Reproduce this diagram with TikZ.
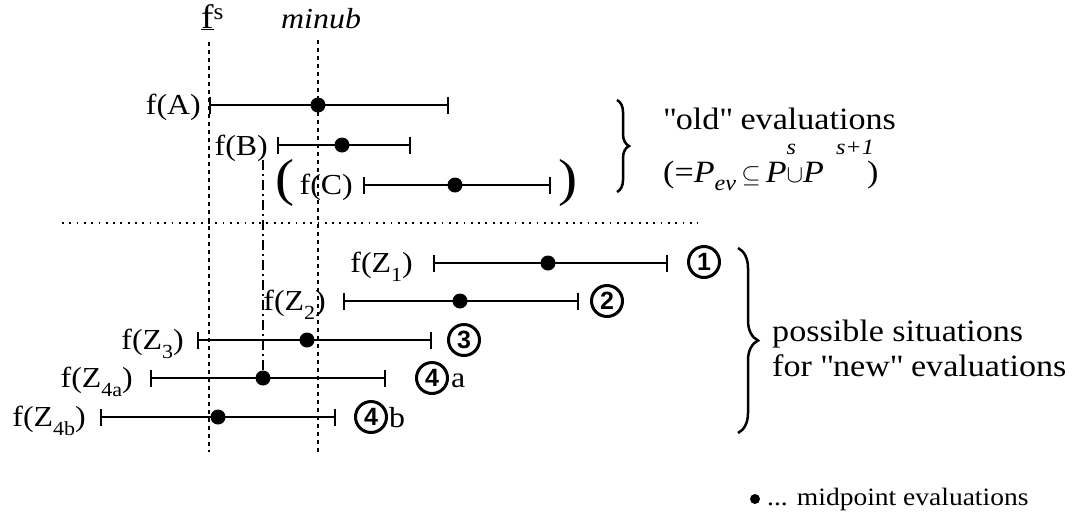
\documentclass[tikz,border=0pt]{standalone}
\usepackage{fontspec}
\setmainfont{Liberation Serif}[FakeStretch=1.1]
\newfontfamily\numfont{Liberation Sans}[FakeStretch=1.0]
\usetikzlibrary{arrows.meta,decorations.pathreplacing}
\newcommand\lbfont{\fontsize{29}{29}\selectfont}
\newcommand\rtfont{\fontsize{31}{31}\selectfont}
\newcommand\zsub[1]{\raisebox{-9pt}{\fontsize{20}{20}\selectfont #1}}
\newcommand\supsm[1]{{\fontsize{22}{22}\selectfont\itshape #1}}
\newcommand\qq{\textquotedbl}
\tikzset{
  interval/.style={line width=2pt,{Bar[width=17pt,line width=2pt]}-{Bar[width=17pt,line width=2pt]}},
  guide/.style={line width=2.5pt,dash pattern=on 4pt off 4pt},
  ddguide/.style={line width=2pt,dash pattern=on 10pt off 4pt on 2pt off 4pt},
  sepline/.style={line width=1.8pt,dash pattern=on 1.8pt off 5.5pt},
  mid/.style={circle,fill=black,inner sep=0pt,minimum size=15pt},
  lbl/.style={font=\lbfont,inner sep=0pt,anchor=base east},
  txt/.style={font=\rtfont,inner sep=0pt,anchor=base west},
  circnum/.style={circle,draw,line width=3pt,minimum size=31pt,inner sep=0pt,font=\numfont\bfseries\fontsize{25}{25}\selectfont},
  bigbrace/.style={decorate,line width=2.5pt,decoration={brace,amplitude=#1}},
}
\begin{document}
\begin{tikzpicture}[x=1pt,y=-1pt]
\useasboundingbox (0,0) rectangle (1074,515);
% top labels
\node[inner sep=0pt,anchor=base west] (fs) at (201,28) {\fontsize{34}{34}\selectfont\underline{f}\raisebox{9pt}{\fontsize{23}{23}\selectfont s}};
\node[inner sep=0pt,anchor=base west,font=\lbfont\itshape] (minub) at (281,28) {minub};
% guide lines
\coordinate (fsTop) at (209,42);
\coordinate (fsBot) at (209,452);
\coordinate (muTop) at (318,40);
\coordinate (muBot) at (318,452);
\draw[guide] (fsTop) -- (fsBot);
\draw[guide] (muTop) -- (muBot);
% row A
\coordinate (aL) at (209,105); \coordinate (aR) at (449,105);
\draw[interval] (aL) -- (aR);
\node[mid] (aM) at (318,105) {};
\node[lbl] (la) at (201,114) {f(A)};
% row B
\coordinate (bL) at (277,145); \coordinate (bR) at (411,145);
\draw[interval] (bL) -- (bR);
\node[mid] (bM) at (342,145) {};
\node[lbl] (lb) at (268,155) {f(B)};
% row C
\coordinate (cL) at (363,185); \coordinate (cR) at (551,185);
\draw[interval] (cL) -- (cR);
\node[mid] (cM) at (455,185) {};
\node[lbl] (lc) at (353,194) {f(C)};
\node[inner sep=0pt,anchor=base west] (pl) at (275,195) {\fontsize{52}{52}\selectfont (};
\node[inner sep=0pt,anchor=base west] (pr) at (558,195) {\fontsize{52}{52}\selectfont )};
% top brace and text
\coordinate (b1t) at (617,100); \coordinate (b1b) at (617,192);
\draw[bigbrace=12pt] (b1t) -- (b1b);
\node[txt] (old1) at (663,129) {\qq old\qq{} evaluations};
\node[txt] (old2) at (663,182) {(=\textit{P}\raisebox{-8pt}{\fontsize{22}{22}\selectfont\textit{ev}}\,$\subseteq$\,\textit{P}\rlap{\raisebox{28pt}{\supsm{s}}}$\cup$\textit{P}\hspace{12pt}\rlap{\raisebox{28pt}{\supsm{s+1}}}\hspace{31pt})};
% separator
\coordinate (sepL) at (62,223); \coordinate (sepR) at (698,223);
\draw[sepline] (sepL) -- (sepR);
% row Z1
\coordinate (z1L) at (433,263); \coordinate (z1R) at (668,263);
\draw[interval] (z1L) -- (z1R);
\node[mid] (z1M) at (548,263) {};
\node[lbl] (lz1) at (413,272) {f(Z\zsub{1})};
\node[circnum] (n1) at (704,262) {1};
% row Z2
\coordinate (z2L) at (343,301); \coordinate (z2R) at (579,301);
\draw[interval] (z2L) -- (z2R);
\node[mid] (z2M) at (460,301) {};
\node[lbl] (lz2) at (326,310) {f(Z\zsub{2})};
\node[circnum] (n2) at (607,301) {2};
% row Z3
\coordinate (z3L) at (197,340); \coordinate (z3R) at (432,340);
\draw[interval] (z3L) -- (z3R);
\node[mid] (z3M) at (307,340) {};
\node[lbl] (lz3) at (184,349) {f(Z\zsub{3})};
\node[circnum] (n3) at (464,340) {3};
% row Z4a
\coordinate (z4aL) at (150,378); \coordinate (z4aR) at (386,378);
\draw[interval] (z4aL) -- (z4aR);
\node[mid] (z4aM) at (263,378) {};
\node[lbl] (lz4a) at (133,387) {f(Z\zsub{4a})};
\node[circnum] (n4a) at (432,378) {4};
\node[inner sep=0pt,anchor=base west,font=\lbfont] (ta) at (451,387) {a};
% row Z4b
\coordinate (z4bL) at (100,417); \coordinate (z4bR) at (336,417);
\draw[interval] (z4bL) -- (z4bR);
\node[mid] (z4bM) at (218,417) {};
\node[lbl] (lz4b) at (86,426) {f(Z\zsub{4b})};
\node[circnum] (n4b) at (371,417) {4};
\node[inner sep=0pt,anchor=base west,font=\lbfont] (tb) at (389,427) {b};
% dash-dot guide
\coordinate (ddTop) at (263,160);
\draw[ddguide] (ddTop) -- (z4aM.center);
% bottom brace and text
\coordinate (b2t) at (738,248); \coordinate (b2b) at (738,433);
\draw[bigbrace=20pt] (b2t) -- (b2b);
\node[txt] (new1) at (772,341) {possible situations};
\node[txt] (new2) at (772,376) {for \qq new\qq{} evaluations};
% legend
\node[circle,fill=black,inner sep=0pt,minimum size=10pt] (ld) at (755,499) {};
\node[inner sep=0pt,anchor=base west,font=\fontsize{25}{25}\selectfont] (lt) at (767,505) {... midpoint evaluations};
\end{tikzpicture}
\end{document}
